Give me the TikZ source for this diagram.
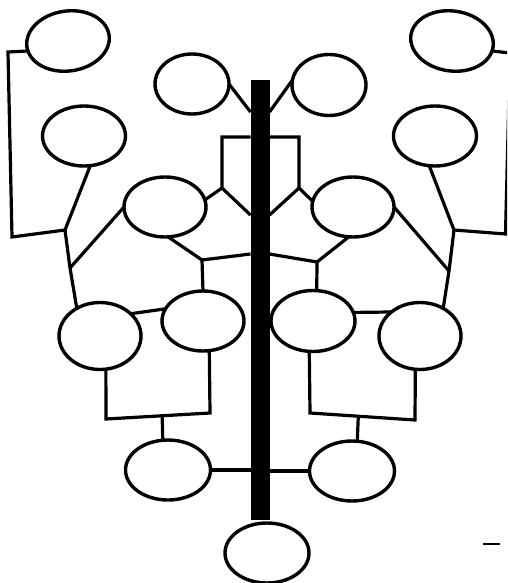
\documentclass[tikz,border=0pt]{standalone}
\usetikzlibrary{shapes.geometric, calc}
\tikzset{
  person/.style={draw, ellipse, line width=3.4pt, inner sep=0pt, outer sep=0pt,
    minimum width=82pt, minimum height=60pt},
  link/.style={line width=3.2pt}
}
\begin{document}
\begin{tikzpicture}[x=1pt, y=-1pt]
  \useasboundingbox (0,0) rectangle (507,583);
  \clip (0,0) rectangle (507,583);

  % Left half
  \node[person, minimum width=83pt, rotate=8] (lTop) at (68,41) {};
  \node[person, minimum width=74pt] (lHi) at (192,84) {};
  \node[person, minimum width=83pt] (lUp) at (84,136) {};
  \node[person] (lMid) at (165,207) {};
  \node[person, minimum height=67pt] (lLowA) at (100,336) {};
  \node[person] (lLowB) at (203,321) {};
  \node[person, minimum width=85pt] (lBot) at (168,470) {};

  % Right half
  \node[person, minimum width=83pt, rotate=-8] (rTop) at (452,41) {};
  \node[person, minimum width=74pt, minimum height=61pt] (rHi) at (329,85) {};
  \node[person, minimum width=83pt] (rUp) at (435,136) {};
  \node[person] (rMid) at (353,207) {};
  \node[person, minimum width=84pt, minimum height=61pt] (rLowA) at (313,321) {};
  \node[person, minimum height=67pt] (rLowB) at (420,336) {};
  \node[person, minimum width=85pt] (rBot) at (352,471) {};

  % Bottom
  \node[person, minimum width=84pt] (base) at (267,553) {};

  % Dividing bar
  \node[fill, inner sep=0pt, outer sep=0pt, minimum width=19pt, minimum height=440pt] (bar) at (260,300) {};

  % Junctions and corners
  \coordinate (frL1) at (8,52);
  \coordinate (frL2) at (12,237);
  \coordinate (jL) at (65,230);
  \coordinate (jLb) at (70,268);
  \coordinate (capL) at (222,137);
  \coordinate (jLm) at (222,188);
  \coordinate (jLs) at (202,260);
  \coordinate (brLa) at (106,419);
  \coordinate (brLb) at (210,413);
  \coordinate (frR1) at (510,53);
  \coordinate (frR2) at (505.5,234);
  \coordinate (jR) at (454,230);
  \coordinate (jRb) at (449,271);
  \coordinate (capR) at (299,137);
  \coordinate (jRm) at (299,188);
  \coordinate (jRs) at (317,262);
  \coordinate (brRa) at (310,413);
  \coordinate (brRb) at (415,420);
  \coordinate (hiIn) at (260,112);
  \coordinate (midIn) at (260,215);
  \coordinate (lowIn) at (260,254);

  % Left links
  \draw[link] (lTop.186) -- (frL1) -- (frL2) -- (jL);
  \draw[link] (lUp.282) -- (jL);
  \draw[link] (jL) -- (jLb) -- (lLowA.130);
  \draw[link] (jLb) -- (lMid.west);
  \draw[link] (lHi.east) -- (bar.west |- hiIn);
  \draw[link] (bar.west |- capL) -- (capL) -- (jLm) -- (bar.west |- midIn);
  \draw[link] (jLm) -- (lMid.10);
  \draw[link] (lMid.276) -- (jLs) -- (bar.west |- lowIn);
  \draw[link] (jLs) -- (lLowB.north);
  \draw[link] (lLowA.36) -- (lLowB.162);
  \draw[link] (lLowA.280) -- (brLa) -- (brLb) -- (lLowB.282);
  \draw[link] ($(brLa)!0.54!(brLb)$) -- (lBot.100);
  \draw[link] (lBot.east) -- (bar.west |- lBot.east);

  % Right links
  \draw[link] (rTop.354) -- (frR1) -- (frR2) -- (jR);
  \draw[link] (rUp.259) -- (jR);
  \draw[link] (jR) -- (jRb) -- (rLowB.50);
  \draw[link] (jRb) -- (rMid.east);
  \draw[link] (rHi.172) -- (bar.east |- hiIn);
  \draw[link] (bar.east |- capR) -- (capR) -- (jRm) -- (bar.east |- midIn);
  \draw[link] (jRm) -- (rMid.172);
  \draw[link] (rMid.262) -- (jRs) -- (bar.east |- lowIn);
  \draw[link] (jRs) -- (rLowA.83);
  \draw[link] (rLowA.12) -- (rLowB.140);
  \draw[link] (rLowA.263) -- (brRa) -- (brRb) -- (rLowB.262);
  \draw[link] ($(brRa)!0.46!(brRb)$) -- (rBot.80);
  \draw[link] (rBot.west) -- (bar.east |- rBot.west);

  % Stray mark
  \draw[line width=1.5pt] (483,544) -- (500,544);
\end{tikzpicture}
\end{document}
